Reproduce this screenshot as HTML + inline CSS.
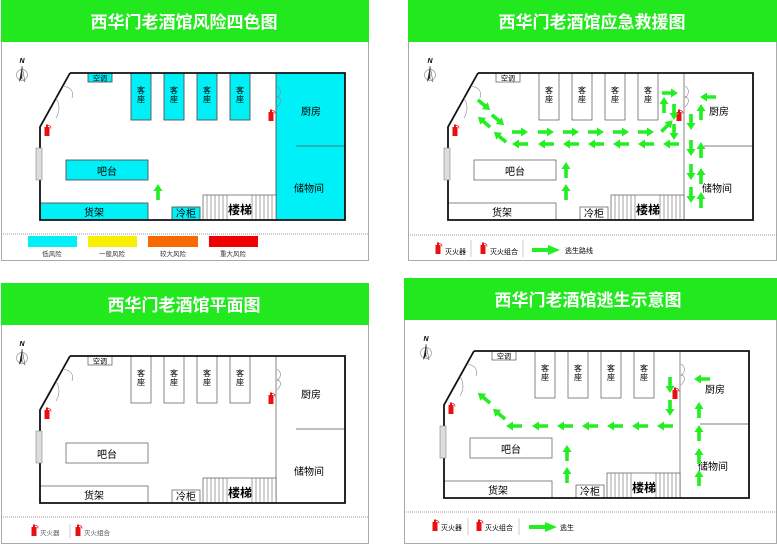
<!DOCTYPE html>
<html><head><meta charset="utf-8"><style>
html,body{margin:0;padding:0;background:#fff;}
svg{display:block;font-family:"Liberation Sans","Noto Sans CJK SC",sans-serif;}
</style></head><body>
<svg width="777" height="544" viewBox="0 0 777 544" xmlns="http://www.w3.org/2000/svg">
<defs>
  <polygon id="ar" points="-8,-1.8 1,-1.8 1,-4.5 8,0 1,4.5 1,1.8 -8,1.8" fill="#22ee22"/>
  <g id="ext"><rect x="-2.5" y="-4" width="5" height="9" fill="#e81010"/><rect x="-1" y="-6.5" width="2" height="3" fill="#e81010"/><path d="M1,-5.5 q3,0 3,3" stroke="#e81010" fill="none" stroke-width="0.8"/></g>
  <g id="north"><text x="0" y="0" font-size="7" font-weight="bold" font-style="italic" text-anchor="middle">N</text><circle cx="0" cy="12" r="5.5" fill="none" stroke="#999" stroke-width="0.7"/><polygon points="0,3 -3,19 0,15" fill="#222"/><polygon points="0,3 3,19 0,15" fill="#fff" stroke="#444" stroke-width="0.5"/></g>
  <!-- generic plan (panel-1 coords) -->
  <g id="plan">
    <rect x="88" y="73" width="24" height="9" fill="none" stroke="#555" stroke-width="0.7"/>
    <text x="100" y="80.5" font-size="7" text-anchor="middle">空调</text>
    <g fill="none" stroke="#555" stroke-width="0.7">
      <rect x="131" y="73" width="20" height="47"/><rect x="164" y="73" width="20" height="47"/>
      <rect x="197" y="73" width="20" height="47"/><rect x="230" y="73" width="20" height="47"/>
      <rect x="66" y="160" width="82" height="20"/>
      <rect x="40" y="203" width="108" height="17"/>
      <rect x="172" y="207" width="28" height="13"/>
      <line x1="276" y1="73" x2="276" y2="220"/>
      <line x1="296" y1="146" x2="345" y2="146"/>
    </g>
    <g font-size="8" text-anchor="middle">
      <text x="141" y="93">客</text><text x="141" y="102">座</text>
      <text x="174" y="93">客</text><text x="174" y="102">座</text>
      <text x="207" y="93">客</text><text x="207" y="102">座</text>
      <text x="240" y="93">客</text><text x="240" y="102">座</text>
    </g>
    <text x="107" y="175" font-size="10" text-anchor="middle">吧台</text>
    <text x="94" y="216" font-size="10" text-anchor="middle">货架</text>
    <text x="186" y="217" font-size="10" text-anchor="middle">冷柜</text>
    <text x="311" y="115" font-size="10" text-anchor="middle">厨房</text>
    <text x="309" y="192" font-size="10" text-anchor="middle">储物间</text>
    <rect x="203" y="195" width="73" height="25" fill="#fff" stroke="#555" stroke-width="0.7"/>
    <g stroke="#666" stroke-width="0.6">
      <line x1="207" y1="195" x2="207" y2="220"/><line x1="211" y1="195" x2="211" y2="220"/><line x1="215" y1="195" x2="215" y2="220"/><line x1="219" y1="195" x2="219" y2="220"/><line x1="223" y1="195" x2="223" y2="220"/><line x1="227" y1="195" x2="227" y2="220"/>
      <line x1="252" y1="195" x2="252" y2="220"/><line x1="256" y1="195" x2="256" y2="220"/><line x1="260" y1="195" x2="260" y2="220"/><line x1="264" y1="195" x2="264" y2="220"/><line x1="268" y1="195" x2="268" y2="220"/><line x1="272" y1="195" x2="272" y2="220"/>
    </g>
    <text x="240" y="214" font-size="12" font-weight="bold" text-anchor="middle">楼梯</text>
    <polyline points="70,73 345,73 345,220 40,220 40,127 70,73" fill="none" stroke="#111" stroke-width="1.8"/>
    <g fill="none" stroke="#888" stroke-width="0.6">
      <path d="M63,86 q12,2 9,12"/><path d="M56,98 q6,10 0,20"/>
      <path d="M277,86 q7,5 0,12"/><path d="M277,96 q7,4 0,11"/>
    </g>
    <rect x="36" y="148" width="6" height="32" fill="#ddd" stroke="#888" stroke-width="0.6"/>
    <use href="#ext" x="47" y="131"/>
    <use href="#ext" x="271" y="116"/>
    <use href="#north" x="22" y="63"/>
  </g>
  <g id="arrows2">
    <use href="#ar" transform="translate(76,105) rotate(40)"/>
    <use href="#ar" transform="translate(90,120) rotate(40)"/>
    <use href="#ar" transform="translate(76,122) rotate(220)"/>
    <use href="#ar" transform="translate(92,137) rotate(220)"/>
    <use href="#ar" x="112" y="132"/><use href="#ar" x="138" y="132"/><use href="#ar" x="163" y="132"/><use href="#ar" x="188" y="132"/><use href="#ar" x="213" y="132"/><use href="#ar" x="238" y="132"/>
    <use href="#ar" transform="translate(259,126) rotate(-45)"/>
    <use href="#ar" transform="translate(112,144) rotate(180)"/><use href="#ar" transform="translate(138,144) rotate(180)"/><use href="#ar" transform="translate(163,144) rotate(180)"/><use href="#ar" transform="translate(188,144) rotate(180)"/><use href="#ar" transform="translate(213,144) rotate(180)"/><use href="#ar" transform="translate(238,144) rotate(180)"/><use href="#ar" transform="translate(263,144) rotate(180)"/>
    <use href="#ar" transform="translate(256,105) rotate(-90)"/>
    <use href="#ar" x="262" y="93"/>
    <use href="#ar" transform="translate(266,112) rotate(90)"/><use href="#ar" transform="translate(266,132) rotate(90)"/>
    <use href="#ar" transform="translate(300,97) rotate(180)"/>
    <use href="#ar" transform="translate(283,122) rotate(90)"/><use href="#ar" transform="translate(283,148) rotate(90)"/><use href="#ar" transform="translate(283,172) rotate(90)"/><use href="#ar" transform="translate(283,195) rotate(90)"/>
    <use href="#ar" transform="translate(293,112) rotate(-90)"/><use href="#ar" transform="translate(293,150) rotate(-90)"/><use href="#ar" transform="translate(293,176) rotate(-90)"/><use href="#ar" transform="translate(293,200) rotate(-90)"/>
    <use href="#ar" transform="translate(158,170) rotate(-90)"/><use href="#ar" transform="translate(158,192) rotate(-90)"/>
  </g>
  <g id="arrows4">
    <use href="#ar" transform="translate(80,120) rotate(220)"/>
    <use href="#ar" transform="translate(95,136) rotate(220)"/>
    <use href="#ar" transform="translate(110,148) rotate(180)"/><use href="#ar" transform="translate(136,148) rotate(180)"/><use href="#ar" transform="translate(161,148) rotate(180)"/><use href="#ar" transform="translate(186,148) rotate(180)"/><use href="#ar" transform="translate(211,148) rotate(180)"/><use href="#ar" transform="translate(236,148) rotate(180)"/><use href="#ar" transform="translate(261,148) rotate(180)"/>
    <use href="#ar" transform="translate(266,107) rotate(90)"/><use href="#ar" transform="translate(266,130) rotate(90)"/>
    <use href="#ar" transform="translate(298,101) rotate(180)"/>
    <use href="#ar" transform="translate(295,132) rotate(-90)"/><use href="#ar" transform="translate(295,155) rotate(-90)"/><use href="#ar" transform="translate(295,178) rotate(-90)"/><use href="#ar" transform="translate(295,200) rotate(-90)"/>
    <use href="#ar" transform="translate(163,175) rotate(-90)"/><use href="#ar" transform="translate(163,197) rotate(-90)"/>
  </g>
</defs>

<!-- Panel 1 -->
<rect x="1.5" y="0.5" width="367" height="260" fill="#fff" stroke="#aaa"/>
<rect x="1" y="0" width="368" height="42" fill="#22e81e"/>
<text x="184" y="28" font-size="17" font-weight="bold" fill="#fff" text-anchor="middle">西华门老酒馆风险四色图</text>
<g fill="#00f0f8" stroke="#555" stroke-width="0.7">
  <rect x="88" y="73" width="24" height="9"/>
  <rect x="131" y="73" width="20" height="47"/><rect x="164" y="73" width="20" height="47"/><rect x="197" y="73" width="20" height="47"/><rect x="230" y="73" width="20" height="47"/>
  <rect x="66" y="160" width="82" height="20"/><rect x="40" y="203" width="108" height="17"/><rect x="172" y="207" width="28" height="13"/>
  <rect x="276" y="73" width="69" height="147"/>
</g>
<use href="#plan"/>
<use href="#ar" transform="translate(158,192) rotate(-90)"/>
<line x1="1" y1="234" x2="368" y2="234" stroke="#999" stroke-dasharray="1,1"/>
<rect x="28" y="236" width="49" height="11" fill="#00f0f8"/><rect x="88" y="236" width="49" height="11" fill="#f8f000"/><rect x="148" y="236" width="50" height="11" fill="#f86a00"/><rect x="209" y="236" width="49" height="11" fill="#f00000"/>
<g font-size="6.5" fill="#333" text-anchor="middle"><text x="52" y="256">低风险</text><text x="112" y="256">一般风险</text><text x="173" y="256">较大风险</text><text x="233" y="256">重大风险</text></g>

<!-- Panel 2 -->
<rect x="408.5" y="0.5" width="368" height="260" fill="#fff" stroke="#aaa"/>
<rect x="408" y="0" width="369" height="42" fill="#22e81e"/>
<text x="592" y="28" font-size="17" font-weight="bold" fill="#fff" text-anchor="middle">西华门老酒馆应急救援图</text>
<g transform="translate(408,0)"><use href="#plan"/><use href="#arrows2"/></g>
<line x1="408" y1="235" x2="777" y2="235" stroke="#999" stroke-dasharray="1,1"/>
<use href="#ext" x="438" y="249"/><text x="445" y="254" font-size="7">灭火器</text>
<line x1="471" y1="240" x2="471" y2="257" stroke="#ccc"/>
<use href="#ext" x="483" y="249"/><text x="490" y="254" font-size="7">灭火组合</text>
<line x1="523" y1="240" x2="523" y2="257" stroke="#ccc"/>
<polygon points="532,248 548,248 548,245 560,250 548,255 548,252 532,252" fill="#22ee22"/>
<text x="565" y="253" font-size="7">逃生路线</text>

<!-- Panel 3 -->
<rect x="1.5" y="283.5" width="367" height="260" fill="#fff" stroke="#aaa"/>
<rect x="1" y="283" width="368" height="42" fill="#22e81e"/>
<text x="184" y="311" font-size="17" font-weight="bold" fill="#fff" text-anchor="middle">西华门老酒馆平面图</text>
<g transform="translate(0,283)"><use href="#plan"/></g>
<line x1="1" y1="517" x2="368" y2="517" stroke="#999" stroke-dasharray="1,1"/>
<use href="#ext" x="34" y="531"/><text x="40" y="535" font-size="6.5" fill="#555">灭火器</text>
<line x1="70" y1="524" x2="70" y2="538" stroke="#ccc"/>
<use href="#ext" x="78" y="531"/><text x="84" y="535" font-size="6.5" fill="#555">灭火组合</text>

<!-- Panel 4 -->
<rect x="404.5" y="278.5" width="372" height="265" fill="#fff" stroke="#aaa"/>
<rect x="404" y="278" width="373" height="42" fill="#22e81e"/>
<text x="588" y="306" font-size="17" font-weight="bold" fill="#fff" text-anchor="middle">西华门老酒馆逃生示意图</text>
<g transform="translate(404,278)"><use href="#plan"/><use href="#arrows4"/></g>
<line x1="404" y1="512" x2="777" y2="512" stroke="#999" stroke-dasharray="1,1"/>
<use href="#ext" x="435" y="526"/><text x="441" y="530" font-size="7">灭火器</text>
<line x1="468" y1="518" x2="468" y2="535" stroke="#ccc"/>
<use href="#ext" x="479" y="526"/><text x="485" y="530" font-size="7">灭火组合</text>
<line x1="519" y1="518" x2="519" y2="535" stroke="#ccc"/>
<polygon points="529,525 545,525 545,522 557,527 545,532 545,529 529,529" fill="#22ee22"/>
<text x="560" y="530" font-size="7">逃生</text>
</svg>
</body></html>
